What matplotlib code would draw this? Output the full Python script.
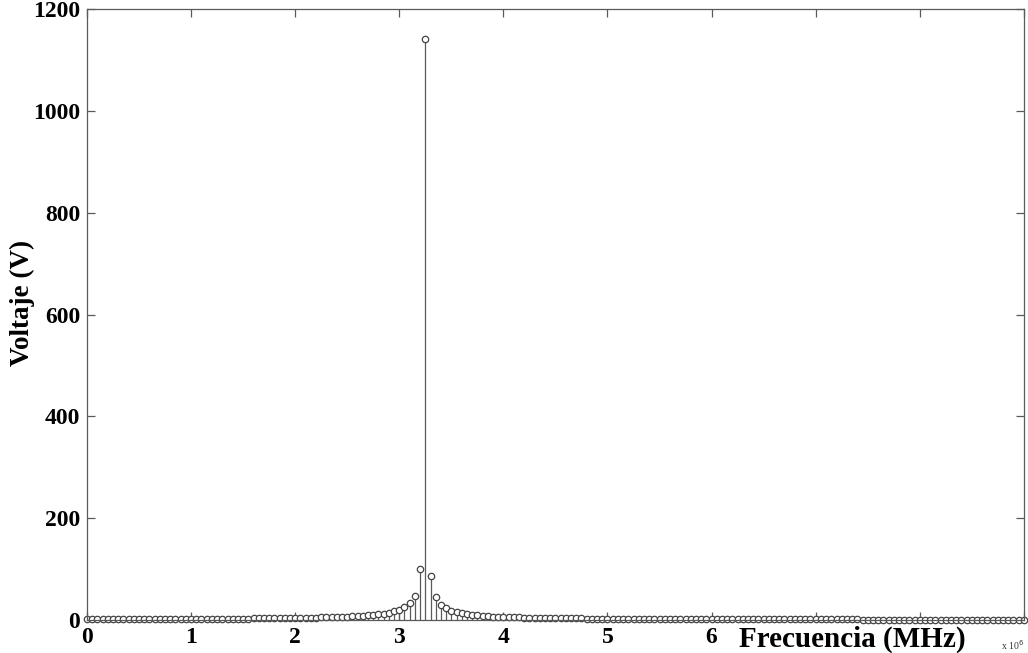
import numpy as np
import matplotlib
matplotlib.use('Agg')
import matplotlib.pyplot as plt

# Espectro de voltaje, paso de 0.05 x 10^6 Hz
freq_step = 0.05
voltage = [
    # 0.00 - 3.20
    1.5, 1.6, 1.6, 1.6, 1.6, 1.7, 1.7, 1.7, 1.7, 1.8,
    1.8, 1.8, 1.9, 1.9, 1.9, 2.0, 2.0, 2.1, 2.1, 2.2,
    2.2, 2.3, 2.3, 2.4, 2.4, 2.5, 2.6, 2.6, 2.7, 2.8,
    2.9, 2.9, 3.0, 3.1, 3.2, 3.3, 3.4, 3.6, 3.7, 3.8,
    4.0, 4.2, 4.3, 4.5, 4.8, 5.0, 5.3, 5.6, 5.9, 6.3,
    6.7, 7.1, 7.7, 8.3, 9.1, 10, 11, 12.5, 14, 17,
    20, 25, 33, 47, 100,
    # pico 3.25
    1141,
    # 3.30 - 9.00
    87, 45, 30, 23, 18, 15, 13, 11, 10, 9,
    8.2, 7.5, 6.9, 6.4, 6.0, 5.6, 5.3, 5.0, 4.7, 4.5,
    4.3, 4.1, 3.9, 3.7, 3.6,
    3.5, 3.4, 3.2, 3.1, 3.0, 2.9, 2.8, 2.7, 2.7, 2.6,
    2.5, 2.4, 2.4, 2.3, 2.3, 2.2, 2.2, 2.1, 2.1, 2.0,
    2.0, 1.9, 1.9, 1.8, 1.8, 1.8, 1.7, 1.7, 1.7, 1.6,
    1.6, 1.6, 1.5, 1.5, 1.5, 1.5, 1.4, 1.4, 1.4, 1.4,
    1.4, 1.3, 1.3, 1.3, 1.3, 1.3, 1.2, 1.2, 1.2, 1.2,
    1.2, 1.2, 1.1, 1.1, 1.1, 1.1, 1.1, 1.1, 1.0, 1.0,
    1.0, 1.0, 1.0, 1.0, 1.0, 1.0, 1.0, 0.9, 0.9, 0.9,
    0.9, 0.9, 0.9, 0.9, 0.9, 0.9, 0.9, 0.9, 0.8, 0.8,
    0.8, 0.8, 0.8, 0.8, 0.8, 0.8, 0.8, 0.8, 0.8, 0.8,
]
freq = np.arange(len(voltage)) * freq_step

x_ticks = [0, 1, 2, 3, 4, 5, 6, 7, 8, 9]
x_tick_labels = ['0', '1', '2', '3', '4', '5', '6', '', '', '']
y_ticks = [0, 200, 400, 600, 800, 1000, 1200]

plt.rcParams['font.family'] = ['Liberation Serif', 'DejaVu Serif']

fig = plt.figure(figsize=(10.28, 6.53), dpi=100)
ax = fig.add_axes([0.0846, 0.0505, 0.9114, 0.9357])

gris = '#5a5a5a'
markers, stems, base = ax.stem(freq, voltage, basefmt=' ')
plt.setp(stems, color=gris, linewidth=0.9)
plt.setp(markers, marker='o', markersize=4.6, markerfacecolor='white',
         markeredgecolor='#444444', markeredgewidth=0.9, clip_on=False)

ax.set_xlim(0, 9)
ax.set_ylim(0, 1200)
ax.set_xticks(x_ticks)
ax.set_xticklabels(x_tick_labels)
ax.set_yticks(y_ticks)

for s in ax.spines.values():
    s.set_color(gris)
    s.set_linewidth(0.9)

ax.tick_params(direction='in', top=True, right=True, length=6, width=0.9,
               color=gris, labelsize=17, pad=5)
for lab in ax.get_xticklabels() + ax.get_yticklabels():
    lab.set_fontweight('bold')

ax.set_ylabel('Voltaje (V)', fontsize=19.5, fontweight='bold')
ax.yaxis.set_label_coords(-0.0555, 0.519)
ax.set_xlabel('Frecuencia (MHz)', fontsize=21, fontweight='bold')
ax.xaxis.set_label_coords(0.817, -0.010)

ax.text(0.988, -0.041, r'x 10$^6$', transform=ax.transAxes, fontsize=7,
        ha='center', va='center', color='#333333')

fig.savefig('out.png', dpi=100)
